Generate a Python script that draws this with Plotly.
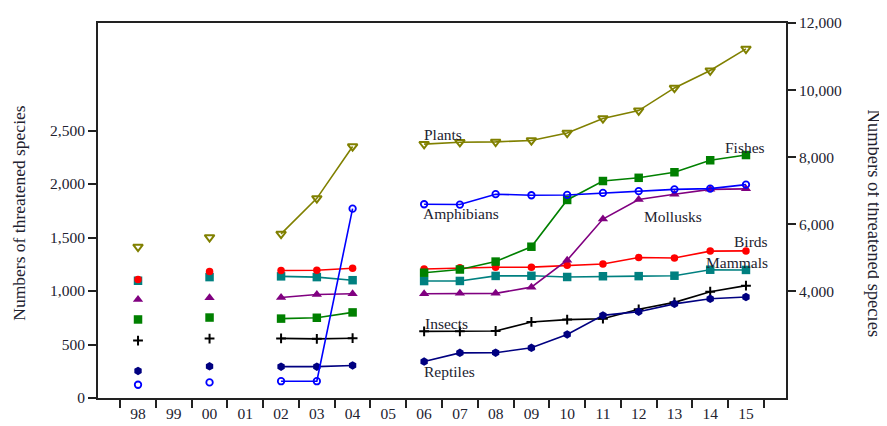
import plotly.graph_objects as go

years = ['98', '99', '00', '01', '02', '03', '04', '05', '06', '07', '08',
         '09', '10', '11', '12', '13', '14', '15']

mammals = [1096, None, 1130, None, 1137, 1130, 1101, None, 1093, 1094, 1141,
           1142, 1131, 1138, 1139, 1143, 1199, 1197]
birds = [1107, None, 1183, None, 1192, 1194, 1213, None, 1206, 1217, 1222,
         1223, 1240, 1253, 1313, 1308, 1373, 1375]
reptiles = [253, None, 296, None, 293, 293, 304, None, 341, 422, 423,
            469, 594, 772, 807, 880, 927, 944]
amphibians = [124, None, 146, None, 157, 157, 1770, None, 1811, 1808, 1905,
              1895, 1898, 1917, 1933, 1950, 1957, 1994]
fishes = [734, None, 752, None, 742, 750, 800, None, 1171, 1201, 1275,
          1414, 1851, 2028, 2058, 2110, 2222, 2271]
insects = [537, None, 555, None, 557, 553, 559, None, 623, 623, 626,
           711, 733, 741, 829, 894, 993, 1050]
mollusks = [920, None, 938, None, 939, 967, 974, None, 975, 978, 978,
            1036, 1288, 1673, 1856, 1905, 1950, 1955]
plants = [5328, None, 5611, None, 5714, 6774, 8321, None, 8390, 8447, 8457,
          8500, 8724, 9156, 9390, 10065, 10584, 11230]

left_ticks = [0, 500, 1000, 1500, 2000, 2500]
right_ticks = [4000, 6000, 8000, 10000, 12000]

FONT = "Liberation Serif"
TXT = "#22222f"

series = [
    ("Mammals", mammals, "#008080", dict(symbol="square", size=8.5)),
    ("Birds", birds, "#ff0000", dict(symbol="circle", size=7.5)),
    ("Mollusks", mollusks, "#800080", dict(symbol="triangle-up", size=9)),
    ("Fishes", fishes, "#008000", dict(symbol="square", size=8.5)),
    ("Insects", insects, "#000000", dict(symbol="cross-thin-open", size=7,
                                        line=dict(width=2, color="#000000"))),
    ("Reptiles", reptiles, "#000080", dict(symbol="hexagon", size=8.5)),
    ("Amphibians", amphibians, "#0000ff", dict(symbol="circle-open", size=6.5,
                                               line=dict(width=1.8, color="#0000ff"))),
]

fig = go.Figure()
for name, vals, color, mk in series:
    m = dict(color=color, **mk)
    fig.add_trace(go.Scatter(x=years, y=vals, mode="lines+markers", name=name,
                             line=dict(color=color, width=1.6), marker=m,
                             connectgaps=False))

fig.add_trace(go.Scatter(x=years, y=plants, mode="lines+markers", name="Plants",
                         yaxis="y2", line=dict(color="#808000", width=1.6),
                         marker=dict(symbol="triangle-down-open", size=8.5, color="#808000",
                                     line=dict(width=2, color="#808000")),
                         connectgaps=False))

labels = [
    ("Plants", 0.4705, 0.704),
    ("Amphibians", 0.4695, 0.491),
    ("Fishes", 0.9084, 0.669),
    ("Mollusks", 0.790, 0.485),
    ("Birds", 0.921, 0.417),
    ("Mammals", 0.881, 0.361),
    ("Insects", 0.472, 0.199),
    ("Reptiles", 0.4705, 0.072),
]
annotations = [dict(text=t, x=x, y=y, xref="paper", yref="paper", xanchor="left",
                    yanchor="middle", showarrow=False,
                    font=dict(family=FONT, size=15.5, color=TXT))
               for t, x, y in labels]
annotations.append(dict(text="Numbers of threatened species", x=-0.114, y=0.493,
                        xref="paper", yref="paper", textangle=-90, showarrow=False,
                        xanchor="center", yanchor="middle",
                        font=dict(family=FONT, size=17.5, color=TXT)))
annotations.append(dict(text="Numbers of threatened species", x=1.1275, y=0.466,
                        xref="paper", yref="paper", textangle=90, showarrow=False,
                        xanchor="center", yanchor="middle",
                        font=dict(family=FONT, size=18.5, color=TXT)))

fig.update_layout(
    width=879, height=418,
    margin=dict(l=90, r=101, t=15, b=28, autoexpand=False),
    paper_bgcolor="white", plot_bgcolor="white",
    showlegend=False,
    font=dict(family=FONT, size=15, color=TXT),
    xaxis=dict(type="category", categoryorder="array", categoryarray=years,
               tickson="boundaries", ticks="outside", ticklen=8, tickwidth=2,
               tickcolor="#222", showline=True, linewidth=2, linecolor="#222",
               mirror=True, showgrid=False, zeroline=False, automargin=False,
               tickfont=dict(family=FONT, size=15.5, color=TXT)),
    yaxis=dict(range=[0, 3505], tickvals=left_ticks, tickformat=",d",
               ticks="outside", ticklen=8, tickwidth=2, tickcolor="#222",
               showline=True, linewidth=2, linecolor="#222", showgrid=False,
               zeroline=False, automargin=False,
               tickfont=dict(family=FONT, size=15.5, color=TXT)),
    yaxis2=dict(range=[823, 12000], tickvals=right_ticks, tickformat=",d",
                overlaying="y", side="right", automargin=False,
                ticks="outside", ticklen=8, tickwidth=2, tickcolor="#222",
                showline=True, linewidth=2, linecolor="#222", showgrid=False,
                zeroline=False, tickfont=dict(family=FONT, size=15.5, color=TXT)),
    annotations=annotations,
)

fig.write_html("out.html")
